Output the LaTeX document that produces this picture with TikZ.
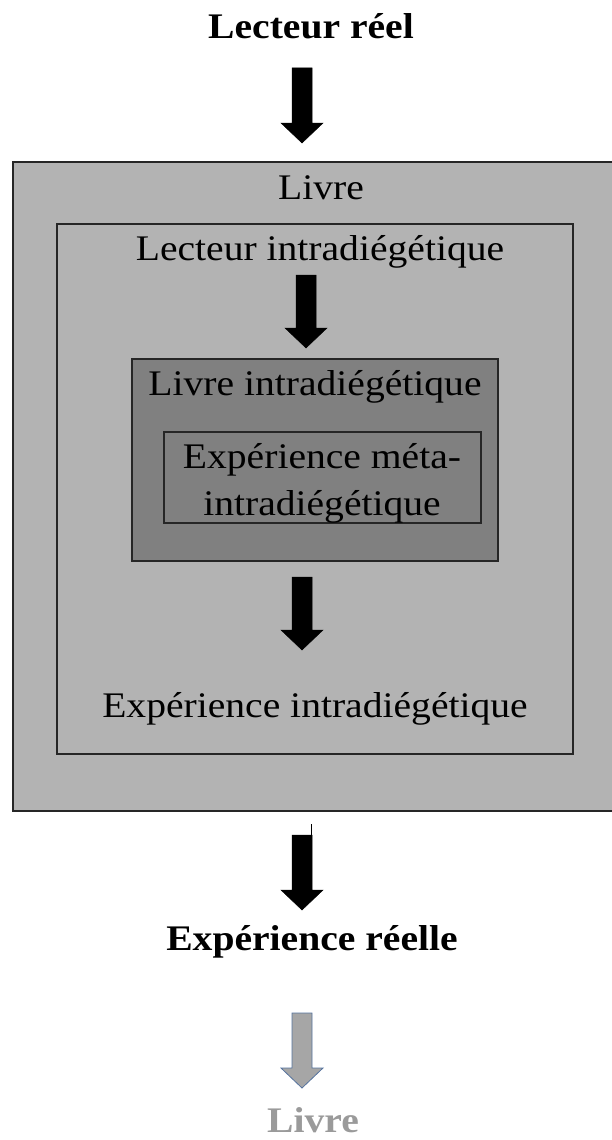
\documentclass[tikz,border=0pt]{standalone}
\usepackage{fontspec}
\setmainfont{Liberation Serif}[FakeStretch=1.1]
\usetikzlibrary{calc}
\definecolor{lightbox}{HTML}{B3B3B3}
\definecolor{darkbox}{HTML}{808080}
\definecolor{greyarrow}{HTML}{A6A6A6}
\definecolor{greyedge}{HTML}{56739E}
\definecolor{greytext}{HTML}{9A9A9A}
\tikzset{
    box/.style={draw=black!85, line width=1.5pt},
    lbl/.style={anchor=base, inner sep=0pt, font=\fontsize{36}{47}\selectfont},
    title/.style={lbl, font=\fontsize{36}{47}\selectfont\bfseries},
    blockarrow/.style={fill=black, draw=black, line width=0.5pt, line join=miter}}
% block arrow from top (#2) to tip (#3)
\newcommand{\blockarrow}[3][]{%
    \draw[blockarrow,#1] ($(#2)+(-10,0)$) -- ($(#2)+(10,0)$) -- ($(#3)+(10,-20)$)
        -- ($(#3)+(21,-20)$) -- (#3) -- ($(#3)+(-21,-20)$) -- ($(#3)+(-10,-20)$) -- cycle;}

\begin{document}
\begin{tikzpicture}[x=1pt, y=-1pt]
    \useasboundingbox (0,0) rectangle (611,1140);

    \draw[box, line width=2pt, fill=lightbox] (13,162) rectangle (614,811);
    \draw[box, fill=lightbox] (57,224) rectangle (573,754);
    \draw[box, fill=darkbox] (132,359) rectangle (498,561);
    \draw[box, fill=darkbox] (164,432) rectangle (481,523);

    \node[title] (lreel) at (311,38) {Lecteur réel};
    \node[lbl] (livre) at (321,199) {Livre};
    \node[lbl] (lintra) at (320,260) {Lecteur intradiégétique};
    \node[lbl] (livintra) at (315,395) {Livre intradiégétique};
    \node[lbl] (meta) at (322,468) {Expérience méta-};
    \node[lbl] (metab) at (322,515) {intradiégétique};
    \node[lbl] (eintra) at (315,717) {Expérience intradiégétique};
    \node[title] (ereel) at (312,950) {Expérience réelle};
    \node[title, text=greytext] (livreg) at (313,1132) {Livre};

    \coordinate (a1) at (302,68);   \coordinate (t1) at (302,143);
    \coordinate (a2) at (306,275);  \coordinate (t2) at (306,348);
    \coordinate (a3) at (302,577);  \coordinate (t3) at (302,650);
    \coordinate (a4) at (302,835);  \coordinate (t4) at (302,910);
    \coordinate (a5) at (302,1013); \coordinate (t5) at (302,1088);

    \blockarrow{a1}{t1}
    \blockarrow{a2}{t2}
    \blockarrow{a3}{t3}
    \blockarrow{a4}{t4}
    \draw[line width=0.8pt] ($(a4)+(9,-11)$) -- ++(0,22);
    \blockarrow[fill=greyarrow, draw=greyedge, line width=0.8pt]{a5}{t5}

\end{tikzpicture}
\end{document}
